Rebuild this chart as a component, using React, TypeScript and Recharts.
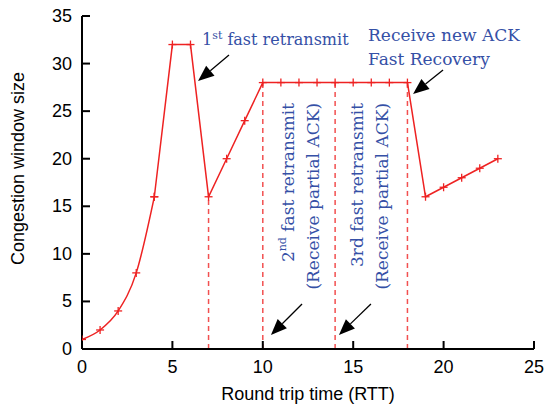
import { LineChart, Line, XAxis, YAxis, ReferenceLine, ReferenceDot } from "recharts";

const rtt = [0, 1, 2, 3, 4, 5, 6, 7, 8, 9, 10, 11, 12, 13, 14, 15, 16, 17, 18, 19, 20, 21, 22, 23];
const cwnd = [1, 2, 4, 8, 16, 32, 32, 16, 20, 24, 28, 28, 28, 28, 28, 28, 28, 28, 28, 16, 17, 18, 19, 20];

const xTicks = [0, 5, 10, 15, 20, 25];
const yTicks = [0, 5, 10, 15, 20, 25, 30, 35];

// dashed drop lines
const dropRtt = [7, 10, 14, 18];
const dropTop = [16, 28, 28, 28];

// arrows, in data units (tail -> head)
const arrowTailX = [8.13, 19.97, 12.17, 15.98];
const arrowTailY = [30.9, 29.33, 4.73, 4.73];
const arrowHeadX = [6.42, 18.31, 10.45, 14.21];
const arrowHeadY = [28.17, 26.8, 1.47, 1.47];

const RED = "#ee2222";
const BLUE = "#3550a6";
const SERIF = "'DejaVu Serif', serif";
const SANS = "'Liberation Sans', Arial, sans-serif";

const slowStart = rtt.slice(0, 5).map((x, i) => ({ x, y: cwnd[i] }));
const rest = rtt.slice(4).map((x, i) => ({ x, y: cwnd[i + 4] }));

const plus = (p: any) => {
  if (p.cx == null) return <g key={p.index} />;
  return (
    <g key={p.index}>
      <line x1={p.cx - 4} x2={p.cx + 4} y1={p.cy} y2={p.cy} stroke={RED} strokeWidth={1.3} />
      <line x1={p.cx} x2={p.cx} y1={p.cy - 4} y2={p.cy + 4} stroke={RED} strokeWidth={1.3} />
    </g>
  );
};

const BottomTick = (p: any) => (
  <g>
    <line x1={p.x} x2={p.x} y1={p.y} y2={p.y - 8} stroke="#000" strokeWidth={2} />
    <text x={p.x} y={p.y + 24} textAnchor="middle" fontFamily={SANS} fontSize={18} fill="#000">
      {p.payload.value}
    </text>
  </g>
);

const LeftTick = (p: any) => (
  <g>
    <line x1={p.x} x2={p.x + 8} y1={p.y} y2={p.y} stroke="#000" strokeWidth={2} />
    <text x={p.x - 10} y={p.y} dy={6} textAnchor="end" fontFamily={SANS} fontSize={18} fill="#000">
      {p.payload.value}
    </text>
  </g>
);

const TopTick = (p: any) => (
  <line x1={p.x} x2={p.x} y1={p.y} y2={p.y + 8} stroke="#000" strokeWidth={2} />
);

const RightTick = (p: any) => (
  <line x1={p.x} x2={p.x - 8} y1={p.y} y2={p.y} stroke="#000" strokeWidth={2} />
);

const Arrow = (p: any) => {
  const { x1, y1, x2, y2 } = p;
  const dx = x2 - x1;
  const dy = y2 - y1;
  const len = Math.sqrt(dx * dx + dy * dy);
  const ux = dx / len;
  const uy = dy / len;
  const hl = 16;
  const hw = 6.5;
  const bx = x2 - ux * hl;
  const by = y2 - uy * hl;
  return (
    <g>
      <line x1={x1} y1={y1} x2={bx} y2={by} stroke="#000" strokeWidth={1.3} />
      <polygon
        points={`${x2},${y2} ${bx - uy * hw},${by + ux * hw} ${bx + uy * hw},${by - ux * hw}`}
        fill="#000"
      />
    </g>
  );
};

const textAt = (x: number, y: number, content: any, size = 17) => (
  <ReferenceDot
    x={x}
    y={y}
    r={0}
    shape={(p: any) => (
      <text x={p.cx} y={p.cy} fontFamily={SERIF} fontSize={size} fill={BLUE}>
        {content}
      </text>
    )}
  />
);

const vTextAt = (x: number, y: number, content: any) => (
  <ReferenceDot
    x={x}
    y={y}
    r={0}
    shape={(p: any) => (
      <text
        x={p.cx}
        y={p.cy}
        transform={`rotate(-90 ${p.cx} ${p.cy})`}
        textAnchor="end"
        dominantBaseline="central"
        fontFamily={SERIF}
        fontSize={17}
        fill={BLUE}
      >
        {content}
      </text>
    )}
  />
);

const YLabel = (p: any) => {
  const vb = p.viewBox;
  const cx = vb.x + 18;
  const cy = vb.y + vb.height / 2 - 14;
  return (
    <text x={cx} y={cy} transform={`rotate(-90 ${cx} ${cy})`} textAnchor="middle" dominantBaseline="central" fontFamily={SANS} fontSize={18} fill="#000">
      Congestion window size
    </text>
  );
};

const XLabel = (p: any) => {
  const vb = p.viewBox;
  return (
    <text x={vb.x + vb.width / 2} y={vb.y + 51} textAnchor="middle" fontFamily={SANS} fontSize={18} fill="#000">
      Round trip time (RTT)
    </text>
  );
};

export default function App() {
  return (
    <div style={{ position: "absolute", left: 0, top: 0, background: "#fff" }}>
      <LineChart width={547} height={408} margin={{ top: 16, right: 13, left: 0, bottom: 0 }}>
        <XAxis
          dataKey="x"
          type="number"
          domain={[0, 25]}
          ticks={xTicks}
          height={59}
          tickSize={0}
          tickMargin={0}
          tickLine={false}
          axisLine={{ stroke: "#000", strokeWidth: 2 }}
          tick={<BottomTick />}
          label={<XLabel />}
          allowDataOverflow
        />
        <XAxis
          xAxisId="top"
          orientation="top"
          dataKey="x"
          type="number"
          domain={[0, 25]}
          ticks={xTicks}
          height={0}
          tickSize={0}
          tickMargin={0}
          tickLine={false}
          axisLine={{ stroke: "#000", strokeWidth: 2 }}
          tick={<TopTick />}
        />
        <YAxis
          type="number"
          domain={[0, 35]}
          ticks={yTicks}
          width={82}
          tickSize={0}
          tickMargin={0}
          tickLine={false}
          axisLine={{ stroke: "#000", strokeWidth: 2 }}
          tick={<LeftTick />}
          label={<YLabel />}
          allowDataOverflow
        />
        <YAxis
          yAxisId="right"
          orientation="right"
          type="number"
          domain={[0, 35]}
          ticks={yTicks}
          width={0}
          tickSize={0}
          tickMargin={0}
          tickLine={false}
          axisLine={{ stroke: "#000", strokeWidth: 2 }}
          tick={<RightTick />}
        />

        {dropRtt.map((x, i) => (
          <ReferenceLine
            key={"d" + i}
            segment={[{ x, y: 0 }, { x, y: dropTop[i] }]}
            stroke="#f25050"
            strokeWidth={1.5}
            strokeDasharray="5 4"
          />
        ))}

        <Line
          data={slowStart}
          dataKey="y"
          type="monotone"
          stroke={RED}
          strokeWidth={1.5}
          dot={plus}
          activeDot={false}
          isAnimationActive={false}
        />
        <Line
          data={rest}
          dataKey="y"
          type="linear"
          stroke={RED}
          strokeWidth={1.5}
          dot={plus}
          activeDot={false}
          isAnimationActive={false}
        />

        {arrowTailX.map((x, i) => (
          <ReferenceLine
            key={"a" + i}
            segment={[{ x, y: arrowTailY[i] }, { x: arrowHeadX[i], y: arrowHeadY[i] }]}
            shape={(p: any) => <Arrow {...p} />}
          />
        ))}

        {textAt(6.64, 31.95, (
          <>
            <tspan>1</tspan>
            <tspan dy={-6} fontSize={11}>st</tspan>
            <tspan dy={6}> fast retransmit</tspan>
          </>
        ), 16)}
        {textAt(15.82, 32.37, "Receive new ACK")}
        {textAt(15.82, 29.85, "Fast Recovery")}
        {vTextAt(11.39, 25.86, (
          <>
            <tspan>2</tspan>
            <tspan dy={-6} fontSize={11}>nd</tspan>
            <tspan dy={6}> fast retransmit</tspan>
          </>
        ))}
        {vTextAt(12.78, 25.86, "(Receive partial ACK)")}
        {vTextAt(15.21, 25.86, "3rd fast retransmit")}
        {vTextAt(16.59, 25.86, "(Receive partial ACK)")}
      </LineChart>
    </div>
  );
}
